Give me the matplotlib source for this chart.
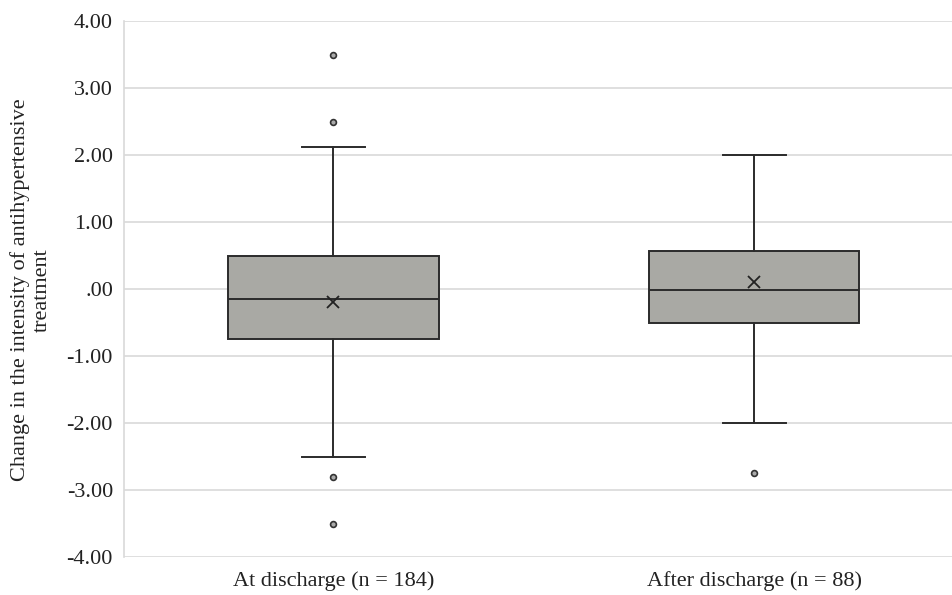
import matplotlib.pyplot as plt

plt.rcParams['font.family'] = ['Liberation Serif', 'DejaVu Serif']

groups = ["At discharge (n = 184)", "After discharge (n = 88)"]
q1 = [-0.75, -0.50]
med = [-0.15, -0.01]
q3 = [0.50, 0.56]
whislo = [-2.50, -2.00]
whishi = [2.12, 2.00]
means = [-0.20, 0.10]
fliers = [[3.50, 2.50, -2.80, -3.50], [-2.75]]
yticks = [-4, -3, -2, -1, 0, 1, 2, 3, 4]

stats = []
for i in range(len(groups)):
    stats.append(dict(q1=q1[i], med=med[i], q3=q3[i], whislo=whislo[i],
                      whishi=whishi[i], mean=means[i], fliers=fliers[i], label=groups[i]))

fig = plt.figure(figsize=(9.53, 5.95), dpi=100)
ax = fig.add_axes([124 / 953, 1 - 557 / 595, 1 - 124 / 953, (557 - 21) / 595])

edge = '#2b2b2b'
ax.bxp(stats, positions=[1, 2], widths=0.5, showmeans=True, patch_artist=True,
       boxprops=dict(facecolor='#a9a9a4', edgecolor=edge, linewidth=1.4),
       medianprops=dict(color=edge, linewidth=1.4),
       whiskerprops=dict(color=edge, linewidth=1.4),
       capprops=dict(color=edge, linewidth=1.4),
       capwidths=0.15,
       meanprops=dict(marker='x', markeredgecolor='#222222', markersize=9, markeredgewidth=1.3),
       flierprops=dict(marker='o', markerfacecolor='#aaaaaa', markeredgecolor='#333333',
                       markersize=4.2, markeredgewidth=1.2))

ax.set_xlim(0.502, 2.473)
ax.set_ylim(-4, 4)
ax.set_yticks(yticks)
ax.set_yticklabels([".00" if t == 0 else "%.2f" % t for t in yticks])
ax.yaxis.grid(True, color='#d9d9d9', linewidth=1.2)
ax.set_axisbelow(True)
for s in ['top', 'right', 'bottom']:
    ax.spines[s].set_visible(False)
ax.spines['left'].set_color('#d9d9d9')
ax.spines['left'].set_linewidth(1.2)
ax.tick_params(axis='both', length=0, labelsize=16, colors='#222222')
ax.tick_params(axis='y', pad=8)
ax.tick_params(axis='x', pad=10)

fig.text(31 / 953, 1 - 290 / 595, "Change in the intensity of antihypertensive\ntreatment",
         rotation=90, ha='center', va='center', multialignment='center',
         fontsize=16, color='#222222')

fig.savefig("out.png", dpi=100)
